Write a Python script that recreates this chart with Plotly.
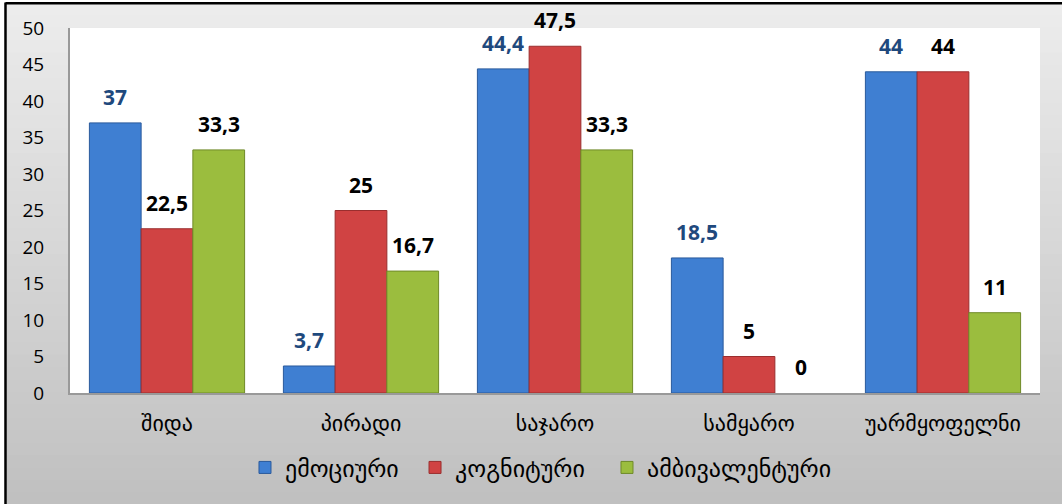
import plotly.graph_objects as go

categories = ["შიდა", "პირადი", "საჯარო", "სამყარო", "უარმყოფელნი"]
series_names = ["ემოციური", "კოგნიტური", "ამბივალენტური"]
emotional = [37, 3.7, 44.4, 18.5, 44]
cognitive = [22.5, 25, 47.5, 5, 44]
ambivalent = [33.3, 16.7, 33.3, 0, 11]
y_ticks = [0, 5, 10, 15, 20, 25, 30, 35, 40, 45, 50]

series_values = [emotional, cognitive, ambivalent]
fill_colors = ["#3f7fd2", "#d04343", "#9bbd3e"]
line_colors = ["#2a5a9c", "#9a2e2e", "#6f8a28"]
label_colors = ["#1F497D", "#000000", "#000000"]
legend_ids = ["legend", "legend2", "legend3"]
legend_x = [0.1804, 0.3557, 0.5536]

def fmt(v):
    return ("%g" % v).replace(".", ",")

bargap = 0.2
fig = go.Figure()
for name, vals, fc, lc, lid in zip(series_names, series_values, fill_colors, line_colors, legend_ids):
    fig.add_trace(go.Bar(
        x=list(range(len(categories))), y=vals, name=name, legend=lid,
        marker=dict(color=fc, line=dict(color=lc, width=[1 if v > 0 else 0 for v in vals])),
    ))

# value labels
n = len(series_values)
w = (1 - bargap) / n
for j, (vals, col) in enumerate(zip(series_values, label_colors)):
    for i, v in enumerate(vals):
        fig.add_annotation(
            x=i + (j - (n - 1) / 2) * w, y=v, xref="x", yref="y",
            text="<b>%s</b>" % fmt(v), showarrow=False,
            yanchor="bottom", yshift=10,
            font=dict(family="Open Sans", size=21, color=col),
        )

# background gradient
steps = 40
shapes = []
top_c = (236, 236, 236)
bot_c = (192, 192, 192)
for k in range(steps):
    t = k / (steps - 1)
    c = tuple(int(round(top_c[m] + (bot_c[m] - top_c[m]) * t)) for m in range(3))
    y1 = 1 - k / steps
    y0 = 1 - (k + 1) / steps
    shapes.append(dict(type="rect", xref="paper", yref="paper",
                       x0=-0.0665, x1=1.03, y0=-0.31 + y0 * 1.378, y1=-0.31 + y1 * 1.378 + 0.002,
                       fillcolor="rgb(%d,%d,%d)" % c, line=dict(width=0), layer="below"))
# white plot area
shapes.append(dict(type="rect", xref="paper", yref="paper", x0=0, x1=1, y0=0, y1=1,
                   fillcolor="white", line=dict(width=0), layer="below"))
# border lines (left and top)
shapes.append(dict(type="line", xref="paper", yref="paper", x0=-0.0665, x1=-0.0665, y0=-0.31, y1=1.07,
                   line=dict(color="black", width=2.5)))
shapes.append(dict(type="line", xref="paper", yref="paper", x0=-0.0665, x1=1.03, y0=1.068, y1=1.068,
                   line=dict(color="black", width=2.5)))

legend_style = dict(orientation="h", xanchor="left", y=-0.205, yanchor="middle",
                    font=dict(family="DejaVu Sans", size=24, color="black"),
                    bgcolor="rgba(0,0,0,0)", itemwidth=30)

fig.update_layout(
    width=1062, height=504,
    margin=dict(l=70, r=22, t=28, b=111),
    paper_bgcolor="white", plot_bgcolor="rgba(0,0,0,0)",
    barmode="group", bargap=bargap, bargroupgap=0,
    shapes=shapes,
    showlegend=True,
    xaxis=dict(tickmode="array", tickvals=list(range(len(categories))), ticktext=categories,
               range=[-0.5, len(categories) - 0.5],
               showline=True, linecolor="#999999", linewidth=2, ticks="",
               tickfont=dict(family="DejaVu Sans", size=22, color="black"), ticklabelstandoff=10),
    yaxis=dict(range=[0, 50], tickvals=y_ticks, showgrid=False, zeroline=False,
               showline=True, linecolor="#999999", linewidth=2, ticks="",
               tickfont=dict(family="Open Sans", size=19, color="black"), ticklabelstandoff=20),
)
for lid, lx in zip(legend_ids, legend_x):
    fig.update_layout({lid: dict(legend_style, x=lx)})

fig.write_html("out.html", config={"displayModeBar": False},
               post_script="document.body.style.margin='0';")
